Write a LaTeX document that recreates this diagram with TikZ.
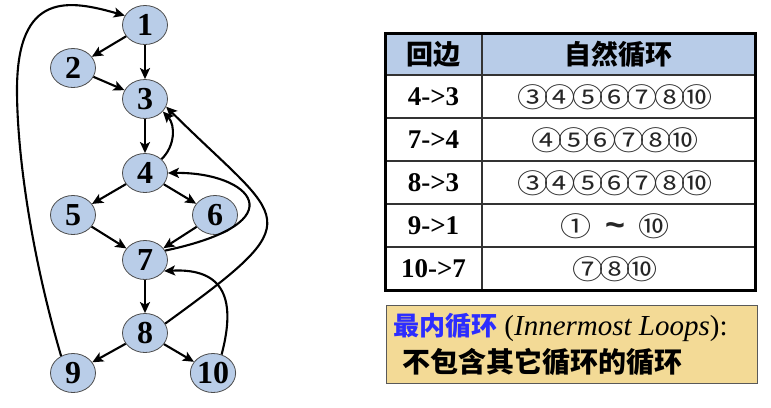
\documentclass[tikz,border=0pt]{standalone}
\usepackage{fontspec}
\setmainfont{Liberation Serif}
\newfontfamily\cjk{Noto Sans CJK SC}
\newfontfamily\circfont{Noto Sans CJK SC}[FakeStretch=1.15,LetterSpace=-14]
\newfontfamily\tildefont{Liberation Sans}
\usetikzlibrary{arrows.meta,shapes.geometric}
\definecolor{nodeblue}{RGB}{185,205,232}
\definecolor{headblue}{RGB}{184,204,232}
\definecolor{notetan}{RGB}{243,218,150}
\definecolor{loopblue}{RGB}{45,45,255}

\begin{document}
\begin{tikzpicture}[x=1pt,y=-1pt,
  blk/.style={ellipse,draw=black!70,line width=0.8pt,fill=nodeblue,minimum width=45pt,minimum height=39pt,inner sep=0pt,font=\fontsize{32}{32}\selectfont\bfseries},
  edge/.style={line width=2.1pt,-{Stealth[length=11pt,width=10pt,inset=2.5pt]}},
  rule/.style={line width=1.3pt,black!80}]
  \useasboundingbox (0,0) rectangle (771,407);
  % flow graph
  \node[blk] (n1) at (145,25) {1};
  \node[blk] (n2) at (73,68) {2};
  \node[blk] (n3) at (145,99) {3};
  \node[blk] (n4) at (145,173) {4};
  \node[blk] (n5) at (73,215) {5};
  \node[blk] (n6) at (215,215) {6};
  \node[blk] (n7) at (145,260) {7};
  \node[blk] (n8) at (145,333) {8};
  \node[blk] (n9) at (73,373) {9};
  \node[blk] (n10) at (213,373) {10};
  \draw[edge] (n1) -- (n2);
  \draw[edge] (n1) -- (n3);
  \draw[edge] (n2) -- (n3);
  \draw[edge] (n3) -- (n4);
  \draw[edge] (n4) -- (n5);
  \draw[edge] (n4) -- (n6);
  \draw[edge] (n5) -- (n7);
  \draw[edge] (n6) -- (n7);
  \draw[edge] (n7) -- (n8);
  \draw[edge] (n8) -- (n9);
  \draw[edge] (n8) -- (n10);
  % back edges
  \draw[edge] (n4.40) to[bend right=45] (n3.-35);
  \draw[edge] (n7.25) .. controls (300,222) and (250,172) .. (n4.east);
  \draw[edge] (n8.25) .. controls (315,215) and (285,225) .. (n3.-20);
  \draw[edge] (n10.65) .. controls (236,300) and (225,268) .. (n7.-30);
  \draw[edge] (n9.125) .. controls (30,250) and (17,150) .. (17,90)
    .. controls (17,-10) and (70,0) .. (n1.155);
  % table of loops
  \fill[headblue] (385,33) rectangle (755,75);
  \foreach \y in {75,118,161,204,247} \draw[rule] (385,\y) -- (755,\y);
  \draw[rule] (482,33) -- (482,290);
  \draw[line width=3pt] (385,33) rectangle (755,290);
  \node[font=\cjk\bfseries\fontsize{27}{27}\selectfont] (h1) at (433.5,54) {回边};
  \node[font=\cjk\bfseries\fontsize{27}{27}\selectfont] (h2) at (618.5,54) {自然循环};
  \foreach \e/\c [count=\i] in {4->3/③④⑤⑥⑦⑧⑩,7->4/④⑤⑥⑦⑧⑩,8->3/③④⑤⑥⑦⑧⑩,9->1/①\hspace{14pt}{\tildefont\bfseries\fontsize{34}{34}\selectfont\char"7E}\hspace{14pt}⑩,10->7/⑦⑧⑩}
  {
    \node[font=\bfseries\fontsize{27}{27}\selectfont] (e\i) at (433.5,53.5+43*\i) {\e};
    \node[text=black!85,font=\circfont\fontsize{27}{27}\selectfont] (c\i) at (615,54.5+43*\i) {\c};
  }
  % note box
  \draw[black!65,line width=1pt,fill=notetan] (386,305) rectangle (757,383);
  \node[anchor=west,inner sep=0pt,font=\fontsize{29}{29}\selectfont] (t1) at (393,327)
    {{\cjk\bfseries\fontsize{26}{26}\selectfont\color{loopblue}最内循环} (\textit{Innermost Loops}):};
  \node[anchor=west,inner sep=0pt,font=\cjk\bfseries\fontsize{28}{28}\selectfont] (t2) at (402,362)
    {不包含其它循环的循环};
\end{tikzpicture}
\end{document}
